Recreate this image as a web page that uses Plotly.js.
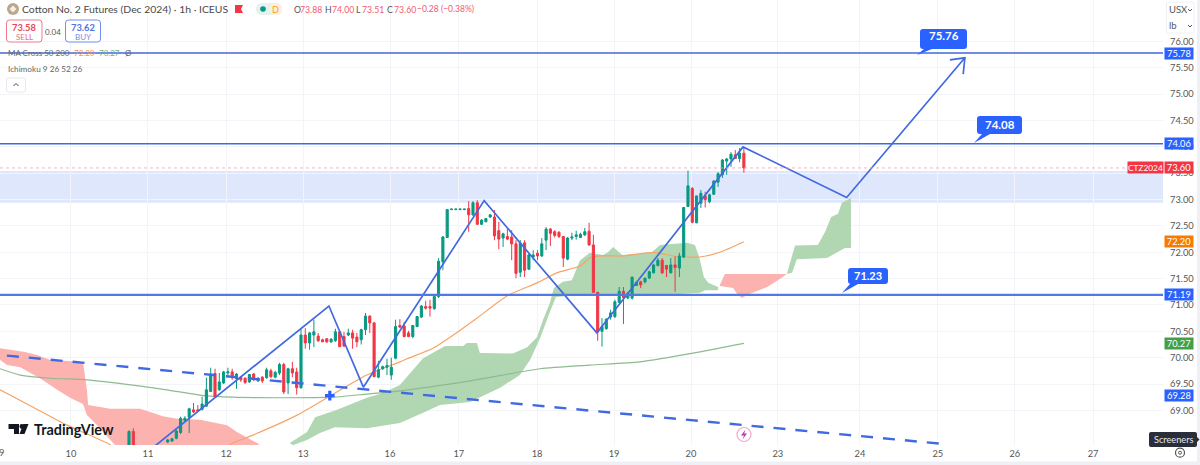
<!DOCTYPE html>
<html><head><meta charset="utf-8">
<script src="https://cdn.plot.ly/plotly-3.0.1.min.js"></script>
<style>html,body{margin:0;padding:0;background:#fff}#c{width:1200px;height:465px}</style>
</head><body><div id="c"></div>
<script>
// Candles, newest first (offset = bars back from the last candle)
const barOffsets=[];for(let i=0;i<=134;i++)barOffsets.push(i);barOffsets.push(142,143);
const lastBar=173;
const open=[73.88,73.78,73.85,73.77,73.73,73.47,73.33,73.10,72.96,73.07,
72.93,72.56,73.21,72.87,71.91,71.70,71.76,71.61,71.75,71.85,
71.75,71.61,71.51,71.44,71.44,71.37,71.13,71.13,71.26,71.05,
70.78,70.77,70.55,70.50,71.24,72.14,72.40,72.33,72.28,72.30,
72.27,71.87,72.30,72.38,72.39,72.44,72.23,71.93,71.98,71.91,
71.68,72.18,71.62,72.16,72.29,72.30,72.27,72.41,72.67,72.67,
72.58,72.53,72.94,72.71,72.83,72.81,72.81,72.81,72.81,72.28,
71.82,71.16,70.93,70.97,70.97,70.77,70.59,70.40,70.47,70.60,
70.61,69.99,69.67,69.82,69.79,69.63,70.66,70.79,70.53,70.34,
70.39,70.47,70.43,70.40,70.49,70.32,70.30,70.36,70.34,70.41,
70.43,70.28,70.43,69.43,69.73,69.79,69.52,69.87,69.71,69.63,
69.75,69.62,69.63,69.56,69.69,69.54,69.61,69.63,69.60,69.73,
69.71,69.52,69.39,69.70,69.36,69.08,69.02,69.01,69.01,68.87,
68.81,68.58,68.47,68.42,68.40,68.60,68.30];
const high=[74.00,73.98,73.94,73.90,73.79,73.77,73.52,73.37,73.11,73.15,
73.18,73.07,73.24,73.55,72.86,71.99,71.92,71.89,71.76,71.89,
71.89,71.78,71.65,71.51,71.46,71.44,71.53,71.25,71.34,71.34,
71.10,70.91,70.75,70.75,71.25,72.33,72.56,72.46,72.37,72.41,
72.37,72.29,72.31,72.40,72.42,72.46,72.48,72.27,72.04,72.04,
71.97,72.23,72.23,72.23,72.42,72.46,72.37,72.58,72.80,72.73,
72.65,72.63,72.99,72.97,72.97,72.82,72.82,72.82,72.82,72.82,
72.31,71.89,71.19,71.10,71.08,71.00,70.79,70.61,70.51,70.68,
70.73,70.72,70.00,69.98,69.85,69.94,70.68,70.80,70.85,70.55,
70.47,70.53,70.55,70.49,70.51,70.55,70.37,70.36,70.36,70.47,
70.72,70.49,70.56,70.56,69.81,69.92,69.81,69.90,69.90,69.75,
69.79,69.81,69.65,69.63,69.71,69.69,69.63,69.65,69.71,69.79,
69.81,69.75,69.71,69.79,69.81,69.62,69.26,69.10,69.14,69.05,
68.89,68.88,68.63,68.48,68.46,68.66,68.62];
const low=[73.51,73.71,73.77,73.62,73.47,73.41,73.24,73.09,72.93,72.85,
72.84,72.55,72.55,72.86,71.89,71.53,71.25,71.60,71.53,71.59,
71.73,71.60,71.49,71.41,71.32,71.36,71.10,71.11,70.64,71.03,
70.75,70.72,70.53,70.21,70.32,71.23,72.12,72.31,72.27,72.24,
72.23,71.85,71.72,72.27,72.28,72.12,72.04,71.91,71.85,71.85,
71.66,71.53,71.53,71.51,71.85,72.23,72.10,72.06,72.23,72.65,
72.57,72.52,72.52,72.69,72.39,72.80,72.80,72.80,72.80,72.27,
71.66,71.13,70.91,70.78,70.91,70.75,70.58,70.37,70.39,70.39,
70.56,69.97,69.58,69.67,69.77,69.61,69.63,70.47,70.43,70.25,
70.20,70.17,70.41,70.20,70.20,70.30,70.28,70.28,70.30,70.30,
70.20,70.15,70.17,69.41,69.30,69.63,69.31,69.31,69.67,69.61,
69.61,69.60,69.52,69.54,69.56,69.52,69.50,69.54,69.41,69.58,
69.63,69.50,69.37,69.25,69.35,69.07,69.00,68.97,68.95,68.57,
68.80,68.55,68.45,68.40,68.38,68.28,68.28];
const close=[73.60,73.88,73.78,73.86,73.77,73.75,73.49,73.35,73.09,73.00,
73.12,73.07,72.57,73.26,72.85,71.93,71.71,71.76,71.68,71.61,
71.85,71.76,71.63,71.51,71.38,71.43,71.53,71.22,71.14,71.26,
71.06,70.85,70.73,70.59,70.49,71.24,72.14,72.39,72.34,72.33,
72.29,72.27,71.89,72.30,72.32,72.36,72.44,72.16,71.93,71.95,
71.95,71.66,72.17,71.60,72.16,72.25,72.35,72.25,72.31,72.71,
72.64,72.61,72.53,72.94,72.71,72.82,72.82,72.82,72.82,72.81,
72.29,71.83,71.16,70.94,70.94,70.98,70.78,70.61,70.40,70.40,
70.58,70.59,69.82,69.85,69.83,69.77,69.64,70.66,70.79,70.53,
70.30,70.37,70.47,70.22,70.21,70.49,70.35,70.30,70.30,70.32,
70.49,70.47,70.28,70.43,69.43,69.71,69.79,69.35,69.87,69.72,
69.64,69.77,69.56,69.61,69.58,69.68,69.53,69.58,69.69,69.62,
69.73,69.73,69.54,69.26,69.69,69.39,69.12,68.99,68.97,69.03,
68.85,68.85,68.61,68.46,68.44,68.30,68.60];

// Ichimoku cloud pieces
const redCloud1TopX=[0,5.8,8.6,11.6,19.3,20.2,20.5,25.6,32.6,37.9,41.2,46.5,52.8,55.1,59.8,60.9];
const redCloud1TopY=[70.18,70.11,70.05,69.96,69.92,69.39,69.10,69.03,69.03,68.89,68.84,68.82,68.72,68.59,68.38,68.31];
const redCloud1BotX=[0,1.6,4.7,9.3,13.3,16.3,19.3,20.2,22.6,26.3,27.9];
const redCloud1BotY=[69.96,69.86,69.82,69.61,69.39,69.24,69.12,68.91,68.72,68.38,68.25];
const greenCloud1TopX=[67.4,71.4,73.3,78.4,85.3,89.1,93.0,98.4,103.5,107.7,108.6,110.9,111.6,119.3,122.6,124.9,126.3,127.9,128.8,130.9,133.0,134.9,137.2,140.2,141.4,142.6,144.7,148.8,151.6,153.5,159.8,161.6,162.6,163.7,164.7,167.0];
const greenCloud1TopY=[68.38,68.59,68.87,69.01,69.24,69.33,69.48,69.99,70.22,70.22,70.28,70.28,70.09,70.08,70.20,70.39,70.72,71.04,71.32,71.44,71.47,71.85,71.99,71.95,72.00,72.10,71.95,71.97,72.00,72.14,72.18,72.14,71.91,71.53,71.42,71.34];
const greenCloud1BotX=[68.1,71.4,74.4,77.9,85.3,93.0,98.8,102.3,109.3,116.3,120.9,123.3,125.6,127.9,129.3,134.9,139.5,153.5,162.8,164.0,167.0];
const greenCloud1BotY=[68.34,68.44,68.57,68.68,68.66,68.76,68.97,69.10,69.16,69.43,69.67,69.96,70.37,70.87,71.15,71.19,71.19,71.19,71.23,71.28,71.28];
const redCloud2TopX=[167.4,168.6,174.4,179.8,183.0];
const redCloud2TopY=[71.38,71.59,71.59,71.59,71.59];
const redCloud2BotX=[167.4,170.5,171.6,172.6,173.7,178.4,180.9,183.0];
const redCloud2BotY=[71.36,71.32,71.19,71.13,71.19,71.34,71.47,71.59];
const greenCloud2TopX=[183.0,184.9,190.2,191.9,193.3,194.9,195.8,197.9];
const greenCloud2TopY=[71.59,72.13,72.14,72.39,72.67,72.73,72.94,73.03];
const greenCloud2BotX=[183.0,184.2,185.3,192.3,196.5,197.9];
const greenCloud2BotY=[71.59,71.61,71.87,71.89,72.08,72.08];

// Moving averages
const ma50X=[0,7.7,15.6,24.9,34.9,44.2,54.2,58.8,69.1,76.7,85.3,93.0,94.7,100.7,104.7,110.9,117.9,124.9,129.5,134.9,137.2,139.5,144.9,151.9,157.9,159.8,162.8,167.4,173.0];
const ma50Y=[69.39,69.06,68.72,68.38,67.87,67.87,68.38,68.53,68.91,69.27,69.67,69.92,69.98,70.18,70.39,70.75,71.17,71.42,71.61,71.74,71.89,71.93,71.93,72.00,71.91,71.91,71.91,72.00,72.20];
const ma200X=[0,4.7,11.6,20.2,30.9,38.8,46.5,54.2,65.8,77.4,85.3,93.0,109.3,125.6,137.2,148.8,162.8,173.0];
const ma200Y=[69.79,69.67,69.61,69.58,69.48,69.39,69.29,69.25,69.24,69.25,69.31,69.37,69.56,69.79,69.86,69.92,70.11,70.27];

// Drawings
const zigzagX=[34.9,76.5,84.5,112.6,138.8,172.8,196.9,224.4];
const zigzagY=[68.25,70.98,69.44,72.98,70.47,74.00,73.04,75.69];
const arrowX=[220.9,224.4,224.0];
const arrowY=[75.65,75.69,75.38];
const trendX=[1.6,219.8];
const trendY=[70.04,68.36];
const crossX=[76.7];
const crossY=[69.28];
const levels=[75.78,74.06,71.19];
const levelWidths=[1.6,1.6,2.2];
const zoneTop=73.54, zoneBottom=72.94, lastPrice=73.60;

// Axes
const barMax=270.47;
const dayBars=[0.2,16.5,34.4,52.6,70.5,90.7,106.7,124.9,142.8,160.7,180.9,200,218.1,236,254.2];
const dayLabels=['9','10','11','12','13','16','17','18','19','20','23','24','25','26','27'];
const priceMin=68.343, priceMax=76.787;
const priceTicks=[69,69.5,70,70.5,71,71.5,72,72.5,73,73.5,74,74.5,75,75.5,76];

const FONT='Lato,sans-serif';
const BLUE='#2962ff', LINE='#4169e1', GREEN='#089981', RED='#f23645';
const closePoly=(ax,ay,bx,by)=>({x:ax.concat(bx.slice().reverse()),y:ay.concat(by.slice().reverse())});
const cloud=(ax,ay,bx,by,color)=>{const p=closePoly(ax,ay,bx,by);return {type:'scatter',mode:'lines',x:p.x,y:p.y,fill:'toself',fillcolor:color,line:{width:0},hoverinfo:'skip',showlegend:false};};
const PINK='rgb(252,178,175)', SAGE='rgb(176,214,178)';
const over={xaxis:'x2',yaxis:'y2',hoverinfo:'skip',showlegend:false};

const traces=[
 cloud(redCloud1TopX,redCloud1TopY,redCloud1BotX,redCloud1BotY,PINK),
 cloud(greenCloud1TopX,greenCloud1TopY,greenCloud1BotX,greenCloud1BotY,SAGE),
 cloud(redCloud2TopX,redCloud2TopY,redCloud2BotX,redCloud2BotY,PINK),
 cloud(greenCloud2TopX,greenCloud2TopY,greenCloud2BotX,greenCloud2BotY,SAGE),
 {type:'scatter',mode:'lines',x:ma200X,y:ma200Y,line:{color:'#8dbb8f',width:1.2,shape:'spline',smoothing:0.6},hoverinfo:'skip',showlegend:false},
 {type:'scatter',mode:'lines',x:ma50X,y:ma50Y,line:{color:'#f5a468',width:1.2,shape:'spline',smoothing:0.6},hoverinfo:'skip',showlegend:false},
 {type:'candlestick',x:barOffsets.map(k=>lastBar-k),open,high,low,close,whiskerwidth:0,
  increasing:{line:{color:GREEN,width:1},fillcolor:GREEN},decreasing:{line:{color:RED,width:1},fillcolor:RED},...over},
 {type:'scatter',mode:'lines',x:trendX,y:trendY,line:{color:LINE,width:2.4,dash:'12px,10px'},...over},
 {type:'scatter',mode:'lines',x:zigzagX,y:zigzagY,line:{color:LINE,width:1.7},...over},
 {type:'scatter',mode:'lines',x:arrowX,y:arrowY,line:{color:LINE,width:1.7},...over},
 {type:'scatter',mode:'markers',x:crossX,y:crossY,marker:{symbol:'cross',size:8,color:BLUE},...over}
];

const X=x=>x/1200, Y=y=>1-y/465;
const anns=[], shps=[];
const txt=(x,y,text,size,color,anchor)=>anns.push({xref:'paper',yref:'paper',x:X(x),y:Y(y),text,showarrow:false,xanchor:anchor||'left',yanchor:'middle',font:{size,color,family:FONT},borderpad:0});
const rr=(x0,y0,x1,y1,r,fill,line)=>shps.push({type:'path',xref:'paper',yref:'paper',layer:'above',
 path:`M${X(x0+r)} ${Y(y0)} L${X(x1-r)} ${Y(y0)} Q${X(x1)} ${Y(y0)} ${X(x1)} ${Y(y0+r)} L${X(x1)} ${Y(y1-r)} Q${X(x1)} ${Y(y1)} ${X(x1-r)} ${Y(y1)} L${X(x0+r)} ${Y(y1)} Q${X(x0)} ${Y(y1)} ${X(x0)} ${Y(y1-r)} L${X(x0)} ${Y(y0+r)} Q${X(x0)} ${Y(y0)} ${X(x0+r)} ${Y(y0)} Z`,
 fillcolor:fill,line:line?{color:line,width:1}:{width:0}});
const poly=(pts,fill)=>shps.push({type:'path',xref:'paper',yref:'paper',layer:'above',
 path:pts.map((p,i)=>(i?'L':'M')+X(p[0])+' '+Y(p[1])).join(' ')+' Z',fillcolor:fill,line:{width:0}});
const stroke=(pts,color,w)=>shps.push({type:'path',xref:'paper',yref:'paper',layer:'above',
 path:pts.map((p,i)=>(i?'L':'M')+X(p[0])+' '+Y(p[1])).join(' '),line:{color,width:w||1}});
const circ=(cx,cy,r,fill,line,w)=>shps.push({type:'circle',xref:'paper',yref:'paper',layer:'above',x0:X(cx-r),x1:X(cx+r),y0:Y(cy+r),y1:Y(cy-r),fillcolor:fill,line:line?{color:line,width:w||1}:{width:0}});

// Price-axis tags
const tag=(price,text,bg)=>anns.push({xref:'paper',yref:'y',x:X(1164),y:price,text,showarrow:false,xanchor:'left',yanchor:'middle',align:'center',width:28,height:11,bgcolor:bg,font:{size:9.3,color:'#fff',family:FONT},borderpad:0});
tag(75.78,'75.78',BLUE);tag(74.06,'74.06',BLUE);tag(73.60,'73.60',RED);tag(72.20,'72.20','#f57c00');tag(71.19,'71.19',BLUE);tag(70.27,'70.27','#43a047');tag(69.28,'69.28',BLUE);
anns.push({xref:'paper',yref:'y',x:X(1127),y:73.60,text:'CTZ2024',showarrow:false,xanchor:'left',yanchor:'middle',align:'center',width:35,height:11,bgcolor:RED,font:{size:8.3,color:'#fff',family:FONT},borderpad:0});

// Call-outs
rr(920,29,967,49,3,BLUE);poly([[917,55],[924,49],[932,49]],BLUE);txt(943.5,36,'<b>75.76</b>',11.5,'#fff','center');
rr(977,116,1022,134,3,BLUE);poly([[974,143],[982,134],[990,134]],BLUE);txt(999.5,124.5,'<b>74.08</b>',11.5,'#fff','center');
rr(848,268,888,284,3,BLUE);poly([[842,293],[850,284],[858,284]],BLUE);txt(868,275.5,'<b>71.23</b>',11,'#fff','center');

// Header
circ(13,9,6,'#b9a78f');poly([[13,5.5],[16.5,9],[13,12.5],[9.5,9]],'#f5efe4');
txt(21,9.5,'Cotton No. 2 Futures (Dec 2024) · 1h · ICEUS',10.4,'#4a4a4a');
poly([[235,5],[243,5],[241,9],[243,13],[235,13]],'#f23645');
rr(256,3,282,15,6,'#e6f2ef');rr(270,3,282,15,6,'#fdf0dc');
circ(263,9,2.8,'#089981');txt(275,9,'D',9,'#f4a020','center');
const dark='#555', pr='#ef5a6f';
txt(292.5,9.5,'O',8.7,dark);txt(299,9.5,'73.88',8.7,pr);
txt(324,9.5,'H',8.7,dark);txt(331,9.5,'74.00',8.7,pr);
txt(355,9.5,'L',8.7,dark);txt(361,9.5,'73.51',8.7,pr);
txt(386,9.5,'C',8.7,dark);txt(392.5,9.5,'73.60',8.7,pr);
txt(416,9.5,'−0.28 (−0.38%)',8.5,pr);
rr(6.5,20,42,42,3,'#fff','#ef7b8a');txt(24,27,'<b>73.58</b>',9.3,'#e8455a','center');txt(24,36.5,'SELL',8,'#ee6e80','center');
txt(53,31.5,'0.04',8,'#555','center');
rr(65.5,20,100.5,42,3,'#fff','#6f8fe8');txt(83,27,'<b>73.62</b>',9.3,'#4d74e0','center');txt(83,36.5,'BUY',8,'#6f8fe8','center');
txt(6.5,53,'MA Cross 50 200',8,'#666');txt(73,53,'72.20',8,'#f5934a');txt(98,53,'70.27',8,'#6fb173');txt(124,53,'Ø',8,'#666');
txt(6.5,69,'Ichimoku 9 26 52 26',8.2,'#666');
rr(6.5,78,25.5,92,2,'#fff','#e8e8ec');stroke([[13.5,86],[16,83.5],[18.5,86]],'#444',1);

// Right-top unit box
rr(1166.5,2,1194,33,2,'#fff','#eef0f4');
txt(1168,10,'USX',9.5,'#555');txt(1168,26,'lb',9.5,'#555');
stroke([[1188,9],[1190,11],[1192,9]],'#555',1);stroke([[1188,25],[1190,27],[1192,25]],'#555',1);

// TradingView logo
poly([[8.5,424],[19,424],[19,434],[14,434],[14,429],[8.5,429]],'#131722');
circ(21.8,426.4,2.3,'#131722');
poly([[23.3,424],[28.5,424],[24.5,434],[19.5,434]],'#131722');
txt(33,429.5,'<b>TradingView</b>',14.4,'#131722');

// Event icon
circ(744,434.5,7,'#fff','#f2a8c8',1.2);
poly([[745.5,429.5],[741,435.5],[744,435.5],[742.5,439.5],[747,433.5],[744.2,433.5]],'#b03cc0');

// Left-edge day label, cut by the pane edge in the source
txt(1.5,452,'9',9.3,'#555','center');

// Screeners tooltip and gear
rr(1149,432,1197,447,2,'#2a2e39');poly([[1197,437],[1199.5,439.5],[1197,442]],'#2a2e39');
txt(1173,439.5,'Screeners',9.2,'#e8e8ec','center');
circ(1180,452.7,4.5,'#fff','#555',1.2);circ(1180,452.7,1.5,'#fff','#555',1);

// Page edges
shps.push({type:'rect',xref:'paper',yref:'paper',layer:'below',x0:X(1197),x1:1,y0:0,y1:1,fillcolor:'#eef0f6',line:{width:0}});
shps.push({type:'rect',xref:'paper',yref:'paper',layer:'below',x0:0,x1:1,y0:0,y1:Y(461.5),fillcolor:'#eef0f6',line:{width:0}});

// Chart shapes
const dataShapes=[
 {type:'rect',xref:'x',yref:'y',layer:'below',x0:0,x1:barMax,y0:zoneBottom,y1:zoneTop,fillcolor:'#dfe7fc',line:{width:0}},
 {type:'line',xref:'x',yref:'y',layer:'above',x0:0,x1:1127/1163*barMax,y0:lastPrice,y1:lastPrice,line:{color:'#f8a0aa',width:0.8,dash:'dot'}}
].concat(levels.map((v,i)=>({type:'line',xref:'x',yref:'y',layer:'above',x0:0,x1:barMax,y0:v,y1:v,line:{color:i==2?'#5078e6':LINE,width:levelWidths[i]}})));

const xDomain=[0,1163/1200], yDomain=[20/465,1];
const layout={width:1200,height:465,margin:{l:0,r:0,t:0,b:0},paper_bgcolor:'#fff',plot_bgcolor:'rgba(0,0,0,0)',showlegend:false,dragmode:false,
 font:{family:FONT},
 xaxis:{domain:xDomain,type:'linear',range:[0,barMax],tickmode:'array',tickvals:dayBars,ticktext:dayLabels,tickangle:0,
  showgrid:true,gridcolor:'#f3f4f7',gridwidth:1,zeroline:false,showline:false,ticks:'',tickfont:{size:9.3,color:'#555',family:FONT},ticklabelstandoff:2},
 yaxis:{domain:yDomain,side:'right',range:[priceMin,priceMax],tickmode:'array',tickvals:priceTicks,tickformat:'.2f',
  showgrid:true,gridcolor:'#f3f4f7',gridwidth:1,zeroline:false,showline:false,ticks:'',tickfont:{size:9.3,color:'#555',family:FONT},ticklabelstandoff:6},
 xaxis2:{domain:xDomain,overlaying:'x',type:'linear',range:[0,barMax],visible:false,rangeslider:{visible:false}},
 yaxis2:{domain:yDomain,overlaying:'y',side:'right',range:[priceMin,priceMax],visible:false},
 shapes:dataShapes.concat(shps),annotations:anns};
Plotly.newPlot('c',traces,layout,{displayModeBar:false,staticPlot:true});
</script></body></html>
